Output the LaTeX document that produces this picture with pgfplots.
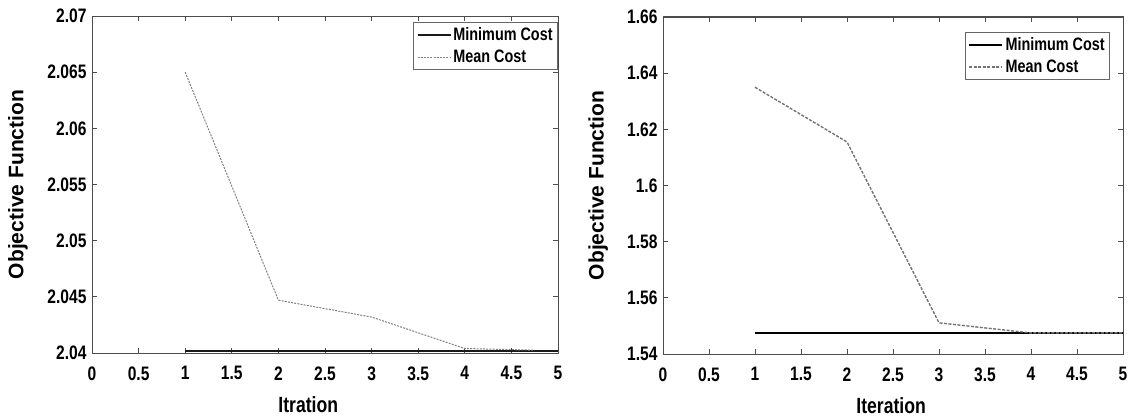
\documentclass[border=0pt]{standalone}
\usepackage{fontspec}
\setmainfont{Liberation Sans}[FakeStretch=0.8]
\newfontfamily\vfont{Liberation Sans}
\usepackage{pgfplots}
\pgfplotsset{compat=1.18}
\begin{document}
\begin{tikzpicture}
\path[use as bounding box] (0pt,0pt) rectangle (1131pt,418pt);
\pgfplotsset{
  myaxis/.style={
    scale only axis,
    width=#1, height=337pt,
    xmin=0, xmax=5, xtick={0,0.5,...,5},
    tick align=inside,
    major tick length=5pt,
    axis line style={draw=black!70, line width=1pt},
    every tick/.style={black!70, line width=0.8pt},
    /pgf/number format/assume math mode=true,
    tick label style={font=\fontsize{19.5}{20}\selectfont\bfseries},
    xticklabel style={yshift=-10pt},
    yticklabel style={xshift=-2pt},
    legend style={font=\fontsize{18}{19}\selectfont\bfseries, draw=black!60, line width=0.8pt, inner sep=3pt, row sep=4pt},
    legend cell align=left,
    legend image code/.code={\draw[##1] (0pt,0pt) -- (33pt,0pt);},
  },
}
% Left chart
\begin{axis}[myaxis=466pt,
  at={(92pt,65pt)}, anchor=south west,
  ymin=2.04, ymax=2.07, ytick={2.04,2.045,...,2.0701},
  yticklabel style={/pgf/number format/fixed, /pgf/number format/precision=3},
  xlabel={\fontsize{22}{23}\selectfont\bfseries Itration},
  xlabel style={at={(axis description cs:0.464,-0.154)}, anchor=center},
  ylabel={\vfont\fontsize{21}{22}\selectfont\bfseries Objective Function},
  ylabel style={at={(axis description cs:-0.159,0.5)}, anchor=center},
  legend style={at={(axis description cs:1,0.982)}, anchor=north east},
]
\addplot[black!90, line width=1.8pt] coordinates {(1,2.04015) (5,2.04015)};
\addlegendentry{Minimum Cost}
\addplot[black!50, line width=1pt, dash pattern=on 2pt off 1.2pt] coordinates {(1,2.0650) (2,2.0447) (3,2.0432) (4,2.0404) (4.75,2.04025)};
\addlegendentry{Mean Cost}
\end{axis}
% Right chart
\begin{axis}[myaxis=460pt,
  at={(663pt,64pt)}, anchor=south west,
  ymin=1.54, ymax=1.66, ytick={1.54,1.56,...,1.661},
  yticklabel style={/pgf/number format/fixed, /pgf/number format/precision=2},
  xlabel={\fontsize{22}{23}\selectfont\bfseries Iteration},
  xlabel style={at={(axis description cs:0.496,-0.154)}, anchor=center},
  ylabel={\vfont\fontsize{21}{22}\selectfont\bfseries Objective Function},
  ylabel style={at={(axis description cs:-0.141,0.5)}, anchor=center},
  legend style={at={(axis description cs:0.972,0.955)}, anchor=north east},
]
\addplot[black, line width=2.4pt] coordinates {(1,1.5475) (5,1.5475)};
\addlegendentry{Minimum Cost}
\addplot[black!55, line width=1.4pt, dash pattern=on 3pt off 1.5pt] coordinates {(1,1.635) (2,1.6155) (3,1.5511) (4,1.5475) (5,1.5475)};
\addlegendentry{Mean Cost}
\end{axis}
\end{tikzpicture}
\end{document}
